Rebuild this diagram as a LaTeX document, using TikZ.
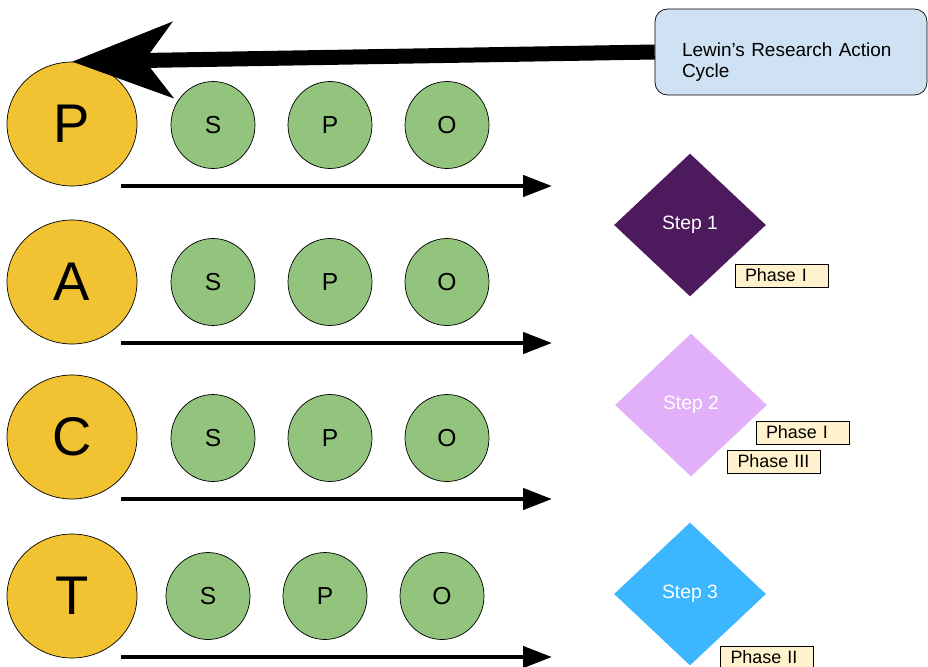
\documentclass[tikz,border=0pt]{standalone}
\usepackage{fontspec}
\setmainfont{Liberation Sans}
\usetikzlibrary{shapes.geometric, arrows.meta, positioning}
\definecolor{letteryellow}{HTML}{F1C232}
\definecolor{stagegreen}{HTML}{93C47D}
\definecolor{titleblue}{HTML}{CFE2F3}
\definecolor{stepone}{HTML}{4E1A5E}
\definecolor{steptwo}{HTML}{E1B0F8}
\definecolor{stepthree}{HTML}{3BB6FF}
\definecolor{phasecream}{HTML}{FFF2CC}
\tikzstyle{letter} = [ellipse, minimum width=2.6cm, minimum height=2.48cm, inner sep=0pt, draw=black, fill=letteryellow, font=\fontsize{31}{36}\selectfont]
\tikzstyle{stage} = [ellipse, minimum width=1.68cm, minimum height=1.74cm, inner sep=0pt, draw=black, fill=stagegreen, font=\fontsize{14}{16}\selectfont]
\tikzstyle{stepbox} = [diamond, minimum width=3.04cm, minimum height=2.86cm, inner sep=0pt, text=white, font=\fontsize{11}{13}\selectfont]
\tikzstyle{phasebox} = [rectangle, draw=black, fill=phasecream, text width=1.46cm, align=left, inner xsep=0.2cm, inner ysep=0pt, minimum height=0.46cm, font=\fontsize{10.2}{12}\selectfont]
\tikzstyle{titlebox} = [rectangle, rounded corners=0.25cm, draw=black, fill=titleblue, text width=4.36cm, align=left, inner xsep=0.54cm, inner ysep=0pt, minimum height=1.72cm, font=\fontsize{10.8}{12}\selectfont]
\tikzstyle{flowarrow} = [line width=0.09cm, -{Triangle[length=0.58cm, width=0.42cm]}]
\tikzstyle{cyclearrow} = [line width=0.3cm, -{Stealth[length=2cm, width=1.5cm, inset=0.55cm]}]

\begin{document}
\begin{tikzpicture}[x=0.02cm, y=-0.02cm]
\useasboundingbox (0,0) rectangle (928,666);

\node (title) [titlebox] at (791,52) {\rule{0pt}{0.68cm}Lewin’s Research Action\\Cycle};

\node (p) [letter] at (72,124) {P};
\node (a) [letter] at (72,282) {A};
\node (c) [letter] at (72,437) {C};
\node (t) [letter] at (72,596) {T};

\node (ps) [stage] at (213,125) {S};
\node (pp) [stage] at (330,125) {P};
\node (po) [stage] at (447,125) {O};
\node (as) [stage] at (213,282) {S};
\node (ap) [stage] at (330,282) {P};
\node (ao) [stage] at (447,282) {O};
\node (cs) [stage] at (213,438) {S};
\node (cp) [stage] at (330,438) {P};
\node (co) [stage] at (447,438) {O};
\node (ts) [stage] at (208,596) {S};
\node (tp) [stage] at (325,596) {P};
\node (to) [stage] at (442,596) {O};

\node (step1) [stepbox, fill=stepone] at (690,225) {\raisebox{3pt}{Step 1}};
\node (step2) [stepbox, fill=steptwo] at (691,405) {\raisebox{3pt}{Step 2}};
\node (step3) [stepbox, fill=stepthree] at (690,594) {\raisebox{3pt}{Step 3}};

\node (phase1) [phasebox] at (781.5,275.5) {Phase I};
\node (phase1b) [phasebox] at (802.5,432.5) {Phase I};
\node (phase3) [phasebox] at (774,461.5) {Phase III};
\node (phase2) [phasebox] at (767,657.5) {Phase II};

\coordinate (p-start) at (121,186);
\coordinate (p-end) at (552,186);
\coordinate (a-start) at (121,343);
\coordinate (a-end) at (552,343);
\coordinate (c-start) at (121,499);
\coordinate (c-end) at (552,499);
\coordinate (t-start) at (121,657);
\coordinate (t-end) at (552,657);

\draw [flowarrow] (p-start) -- (p-end);
\draw [flowarrow] (a-start) -- (a-end);
\draw [flowarrow] (c-start) -- (c-end);
\draw [flowarrow] (t-start) -- (t-end);
\draw [cyclearrow] (title.west) -- (p.north);
\end{tikzpicture}
\end{document}
